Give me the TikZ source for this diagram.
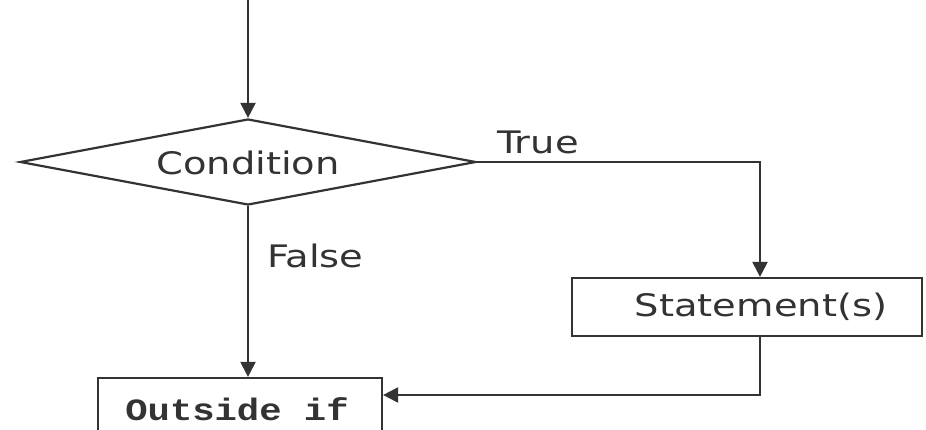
\documentclass[tikz,border=0pt]{standalone}
\usepackage{fontspec}
\setmainfont{DejaVu Sans}
\newfontfamily\codefont{Liberation Mono}
\usetikzlibrary{arrows.meta,shapes.geometric}
\begin{document}
\begin{tikzpicture}[x=1pt,y=-1pt,
  line width=2.2pt, draw=black!80,
  flow/.style={draw=black!80, -{Triangle[length=15pt,width=15pt]}},
  lbl/.style={font=\fontsize{31}{32}\selectfont, text=black!80, inner sep=0pt},
  box/.style={draw=black!80, rectangle, inner sep=0pt}]
\useasboundingbox (0,0) rectangle (926,430);
% decision
\node[draw=black!80, diamond, aspect=5.4, inner sep=0pt, minimum width=456pt, minimum height=86pt] (cond) at (248,162) {};
\node[lbl] at (248,163) {\scalebox{1.24}[1]{Condition}};
\coordinate (start) at (248,0);
% boxes
\node[box, minimum width=350pt, minimum height=58pt] (stmt) at (747,307) {};
\node[lbl] at (761,307) {\scalebox{1.24}[1]{Statement(s)}};
\node[box, minimum width=284pt, minimum height=80pt] (out) at (240,418) {};
\node[lbl, font=\codefont\bfseries\fontsize{31}{32}\selectfont] at (237,409) {\scalebox{1.2}[1]{Outside if}};
% connectors
\coordinate (tc) at (760,162);
\coordinate (bc) at (760,395);
\draw[flow] (start) -- (cond.north);
\draw[flow] (cond.east) -- (tc) -- (stmt.north -| tc);
\draw[flow] (cond.south) -- (cond.south |- out.north);
\draw[flow] (stmt.south -| bc) -- (bc) -- (bc -| out.east);
% branch labels
\node[lbl, anchor=south west] at (496,155) {\scalebox{1.24}[1]{True}};
\node[lbl, anchor=west] at (266,256) {\scalebox{1.24}[1]{False}};
\end{tikzpicture}
\end{document}
